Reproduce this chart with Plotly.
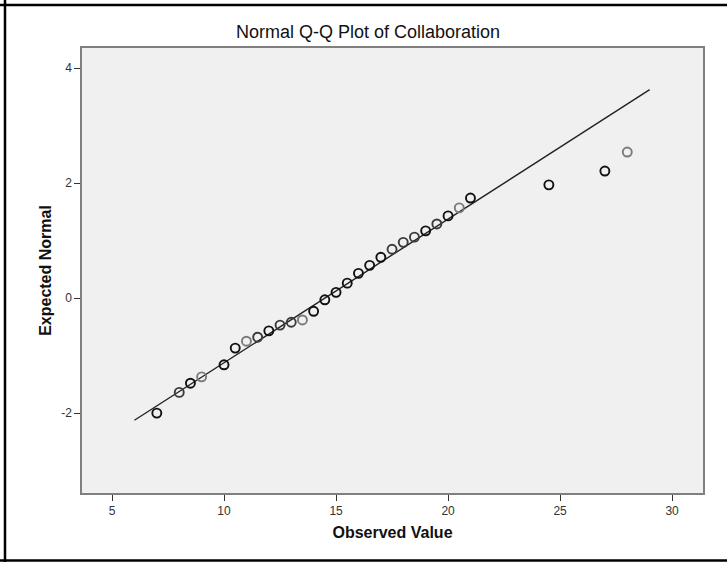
import plotly.graph_objects as go

# Observed values and their expected normal quantiles
observed = [7, 8, 8.5, 9, 10, 10.5, 11, 11.5, 12, 12.5, 13, 13.5, 14, 14.5, 15,
            15.5, 16, 16.5, 17, 17.5, 18, 18.5, 19, 19.5, 20, 20.5, 21, 24.5, 27, 28]
expected = [-2.00, -1.64, -1.48, -1.37, -1.16, -0.87, -0.75, -0.68, -0.57, -0.47,
            -0.42, -0.38, -0.23, -0.03, 0.10, 0.26, 0.43, 0.57, 0.71, 0.85,
            0.97, 1.06, 1.17, 1.29, 1.43, 1.57, 1.74, 1.97, 2.21, 2.54]

# Reference line parameters (mean and standard deviation of the sample)
ref_mean = 14.5
ref_sd = 4.0
ref_x = [6, 29]
ref_y = [(v - ref_mean) / ref_sd for v in ref_x]

x_ticks = [5, 10, 15, 20, 25, 30]
y_ticks = [-2, 0, 2, 4]

# Stroke shade of each circle (overlapping cases print darker)
dark, mid, light = "#111111", "#3a3a3a", "#7a7a7a"
stroke = [dark, mid, dark, light, dark, dark, light, mid, dark, mid,
          mid, light, dark, dark, dark, dark, dark, dark, dark, mid,
          mid, mid, dark, mid, dark, light, dark, dark, dark, light]

W, H = 727, 562
L, R, T, B = 82, 703, 48, 493


def px(x):
    return (x - L) / (R - L)


def py(y):
    return (B - y) / (B - T)


fig = go.Figure()
fig.add_trace(go.Scatter(x=ref_x, y=ref_y, mode="lines",
                         line=dict(color="#222222", width=1.4),
                         hoverinfo="skip", showlegend=False))
fig.add_trace(go.Scatter(x=observed, y=expected, mode="markers",
                         marker=dict(symbol="circle-open", size=9,
                                     color=stroke, line=dict(width=1.9, color=stroke)),
                         showlegend=False))

font = "Arial, 'Liberation Sans', sans-serif"
fig.update_layout(
    width=W, height=H,
    margin=dict(l=L, r=W - R, t=T, b=H - B),
    paper_bgcolor="white", plot_bgcolor="#f0f0f0",
    font=dict(family=font, color="#222222"),
    title=dict(text="Normal Q-Q Plot of Collaboration", x=368 / W, xanchor="center",
               y=1 - 32 / H, yanchor="middle",
               font=dict(size=18, color="#111111", family=font)),
    xaxis=dict(range=[3.66, 31.38], tickvals=x_ticks, ticks="outside", ticklen=6,
               tickwidth=1, tickcolor="#333333", showgrid=False, zeroline=False,
               showline=True, linecolor="#7f7f7f", linewidth=1.5, mirror=True,
               tickfont=dict(size=12, color="#333333"),
               title=dict(text="<b>Observed Value</b>", standoff=10,
                          font=dict(size=16, color="#111111"))),
    yaxis=dict(range=[-3.39, 4.35], tickvals=y_ticks,
               ticktext=[str(v) for v in y_ticks], ticks="outside", ticklen=6,
               tickwidth=1, tickcolor="#333333", showgrid=False, zeroline=False,
               showline=True, linecolor="#7f7f7f", linewidth=1.5, mirror=True,
               tickfont=dict(size=12, color="#333333"),
               title=dict(text="<b>Expected Normal</b>", standoff=6,
                          font=dict(size=16, color="#111111"))),
)

# Outer frame: top, left and bottom rules
frame = dict(type="line", xref="paper", yref="paper", line=dict(color="black", width=2.5))
fig.add_shape(**frame, x0=px(0), x1=px(W), y0=py(5), y1=py(5))
fig.add_shape(**frame, x0=px(5), x1=px(5), y0=py(0), y1=py(H))
fig.add_shape(**frame, x0=px(0), x1=px(W), y0=py(560.5), y1=py(560.5))

fig.write_html("out.html")
